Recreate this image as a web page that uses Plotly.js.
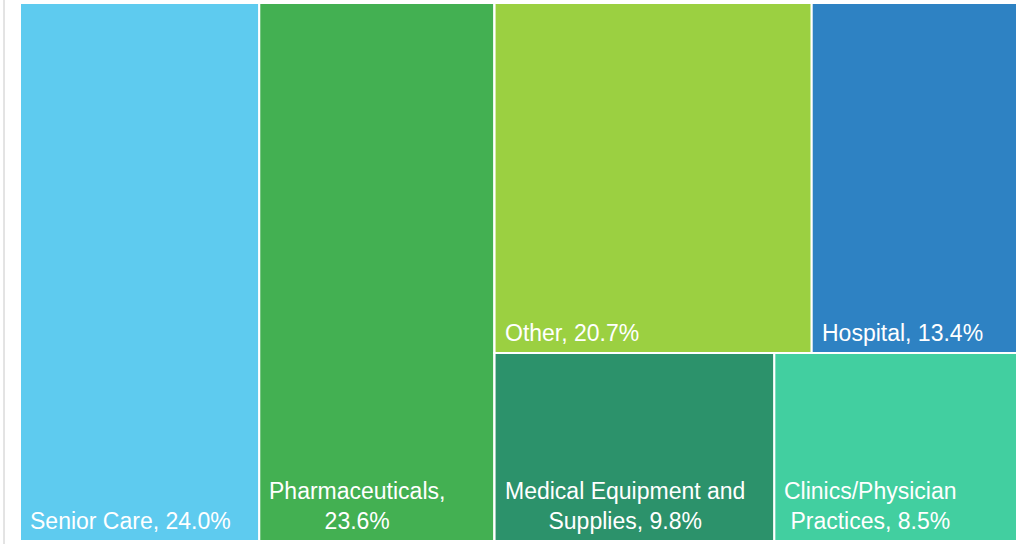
<!DOCTYPE html>
<html><head><meta charset="utf-8">
<script src="https://cdn.plot.ly/plotly-3.0.1.min.js"></script>
<style>html,body{margin:0;padding:0;background:#fff}#chart{width:1030px;height:544px}</style>
</head><body><div id="chart"></div>
<script>
// Data
const categories = ["Senior Care", "Pharmaceuticals", "Other", "Hospital", "Medical Equipment and Supplies", "Clinics/Physician Practices"];
const shares = [24.0, 23.6, 20.7, 13.4, 9.8, 8.5];
const labelLines = [["Senior Care, 24.0%"], ["Pharmaceuticals,", "23.6%"], ["Other, 20.7%"], ["Hospital, 13.4%"], ["Medical Equipment and", "Supplies, 9.8%"], ["Clinics/Physician", "Practices, 8.5%"]];
const colors = ["#5ECBEF", "#43B052", "#9BD041", "#2E82C3", "#2C926B", "#42CFA0"];
// block each category sits in (reproduces the reference tiling)
const blockOf = ["All", "All", "Top", "Top", "Bottom", "Bottom"];

const ids = [], labels = [], parents = [], values = [], mcolors = [];
function addBlock(name, parent) {
  ids.push(name); labels.push(name); parents.push(parent); values.push(0); mcolors.push("#ffffff");
}
function addLeaves(block) {
  categories.forEach((c, i) => {
    if (blockOf[i] !== block) return;
    ids.push(c); labels.push(c); parents.push(block); values.push(shares[i]); mcolors.push(colors[i]);
  });
}
addBlock("All", "");
addLeaves("All");
addBlock("Rest", "All");
addBlock("Top", "Rest");
addLeaves("Top");
addBlock("Bottom", "Rest");
addLeaves("Bottom");

const trace = {
  type: "treemap",
  ids: ids, labels: labels, parents: parents, values: values,
  branchvalues: "remainder",
  sort: false,
  textinfo: "none",
  marker: {colors: mcolors, line: {width: 2, color: "#ffffff"}, pad: {t: 0, l: 0, r: 0, b: 0}},
  tiling: {packing: "slice-dice", pad: 0},
  pathbar: {visible: false},
  hoverinfo: "skip"
};

// label anchors: bottom-left corner of each cell, derived from the values (same slice-dice tiling)
const sumOf = b => shares.reduce((s, v, i) => s + (blockOf[i] === b ? v : 0), 0);
const total = shares.reduce((a, b) => a + b, 0);
const restSum = sumOf("Top") + sumOf("Bottom");
const restX0 = sumOf("All") / total, restW = restSum / total;
const rowBottom = {Top: sumOf("Bottom") / restSum, Bottom: 0};
const cursor = {All: 0, Top: 0, Bottom: 0};
const annotations = categories.map((c, i) => {
  const b = blockOf[i];
  let x;
  if (b === "All") { x = cursor.All / total; cursor.All += shares[i]; }
  else { x = restX0 + restW * cursor[b] / sumOf(b); cursor[b] += shares[i]; }
  const y = b === "All" ? 0 : rowBottom[b];
  return {
    xref: "paper", yref: "paper", x: x, y: y, xanchor: "left", yanchor: "bottom",
    xshift: 8, yshift: 5, align: "center", showarrow: false,
    text: labelLines[i].join("<br>"),
    font: {family: "Liberation Sans, Arial, sans-serif", size: 23, color: "#ffffff"}
  };
});

const layout = {
  width: 1030, height: 544,
  margin: {l: 20, r: 13, t: 3, b: 3},
  paper_bgcolor: "#ffffff",
  showlegend: false,
  annotations: annotations,
  shapes: [{type: "line", xref: "paper", yref: "paper", xsizemode: "pixel", xanchor: 0, x0: -16, x1: -16, y0: -0.01, y1: 1.01, line: {color: "#c8c8c8", width: 1}}]
};
Plotly.newPlot("chart", [trace], layout, {displayModeBar: false, staticPlot: true});
</script></body></html>
